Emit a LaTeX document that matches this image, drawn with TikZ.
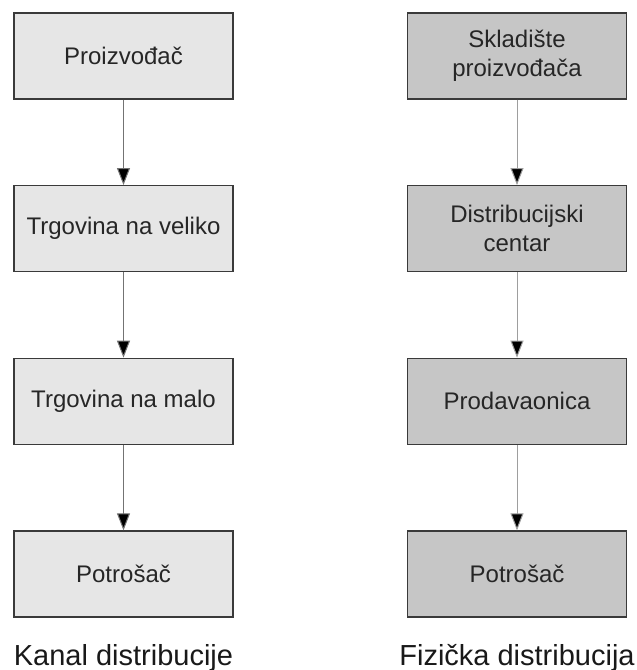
\documentclass[tikz,border=0pt]{standalone}
\usepackage{fontspec}
\setmainfont{Liberation Sans}
\usetikzlibrary{arrows.meta}
\definecolor{lightfill}{HTML}{E6E6E6}
\definecolor{darkfill}{HTML}{C6C6C6}
\definecolor{boxline}{HTML}{3A3A3A}
\begin{document}
\begin{tikzpicture}[x=1pt,y=1pt,
  box/.style={draw=boxline,line width=1.3pt,minimum width=219pt,minimum height=86pt,
    inner sep=0pt,align=center,font=\fontsize{24}{29}\selectfont,text=black!85},
  lbox/.style={box,fill=lightfill},
  dbox/.style={box,fill=darkfill},
  flow/.style={draw=black!55,line width=1pt,-{Triangle[length=17pt,width=13pt,fill=black]}},
  dflow/.style={flow,draw=black!38},
  caption/.style={font=\fontsize{29}{34}\selectfont,text=black!90}]
\useasboundingbox (0,0) rectangle (637,-670);
\node[lbox] (l1) at (123.5,-56) {Proizvođač};
\node[lbox] (l2) at (123.5,-228.7) {Trgovina na veliko};
\node[lbox] (l3) at (123.5,-401.3) {Trgovina na malo};
\node[lbox] (l4) at (123.5,-574) {Potrošač};
\node[dbox] (r1) at (517,-56) {Skladište\\proizvođača};
\node[dbox] (r2) at (517,-228.7) {Distribucijski\\centar};
\node[dbox] (r3) at (517,-401.3) {Prodavaonica};
\node[dbox] (r4) at (517,-574) {Potrošač};
\draw[flow] (l1) -- (l2);
\draw[flow] (l2) -- (l3);
\draw[flow] (l3) -- (l4);
\draw[dflow] (r1) -- (r2);
\draw[dflow] (r2) -- (r3);
\draw[dflow] (r3) -- (r4);
\node[caption,anchor=base] (cl) at (123.5,-665) {Kanal distribucije};
\node[caption,anchor=base] (cr) at (517,-665) {Fizička distribucija};
\end{tikzpicture}
\end{document}
